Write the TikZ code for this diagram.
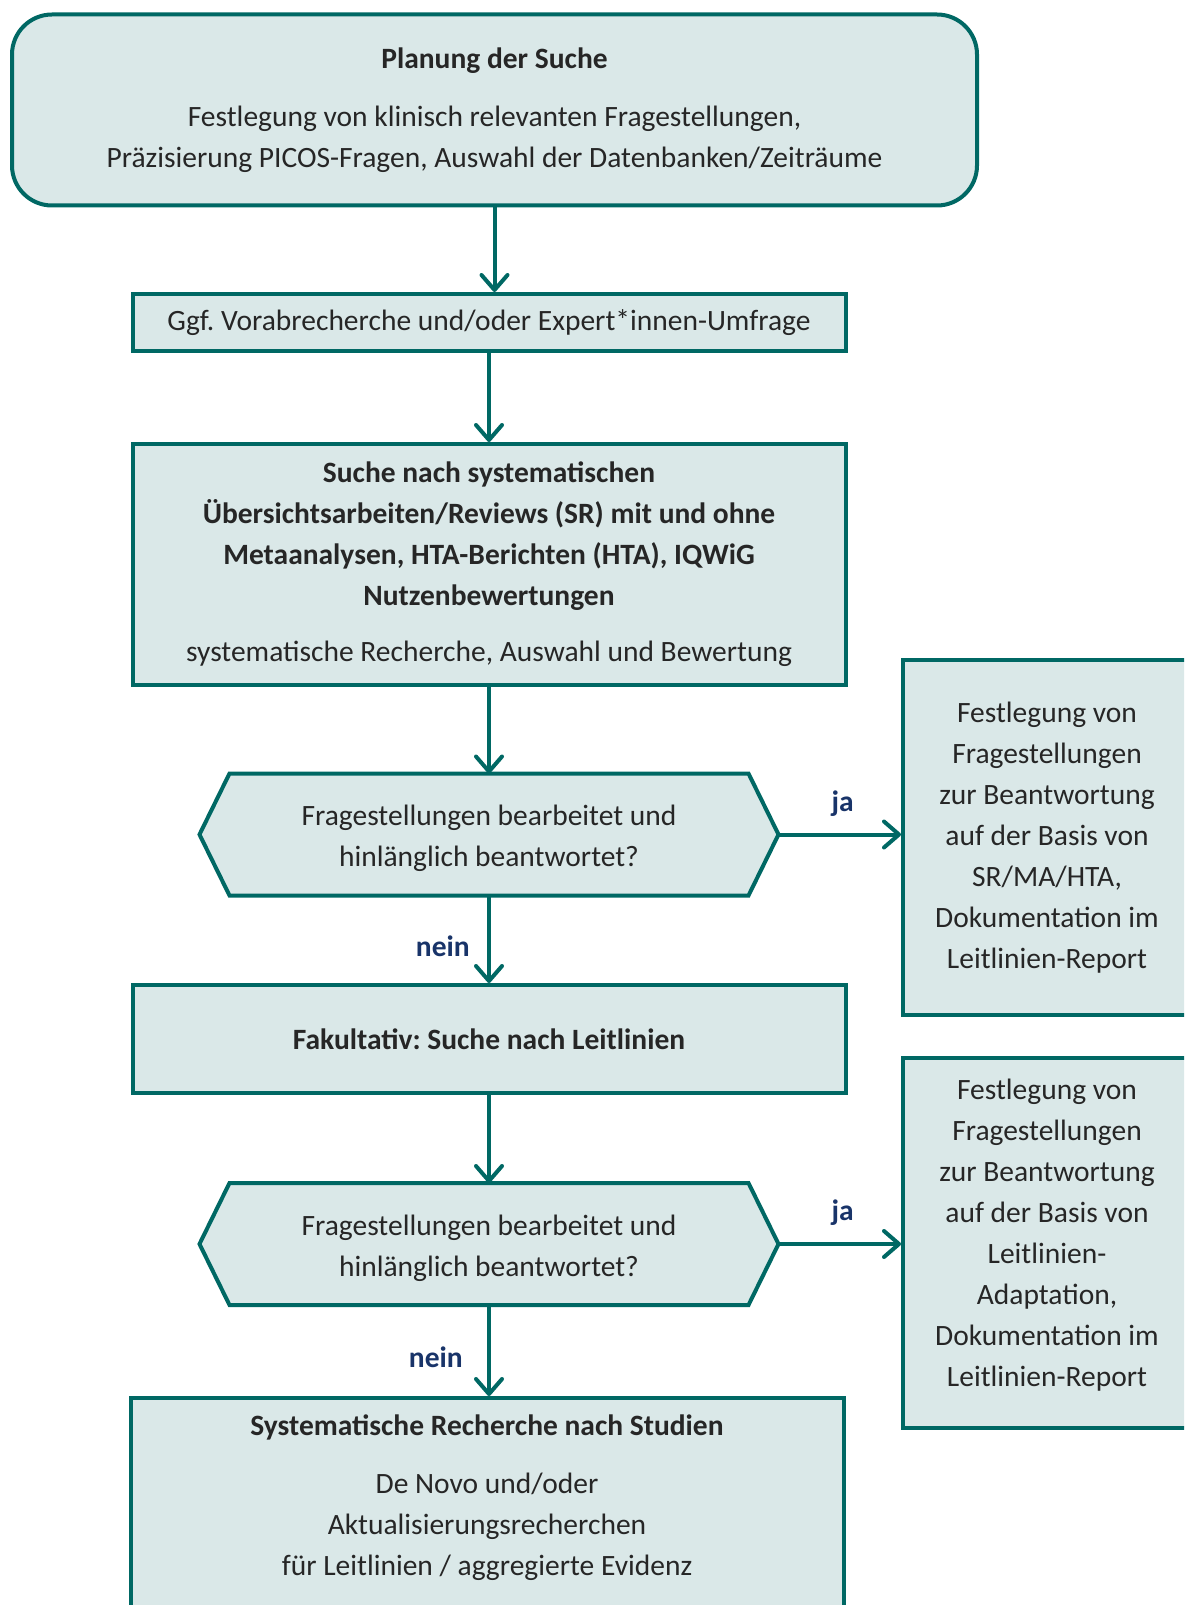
\documentclass[tikz,border=0pt]{standalone}
\usepackage{fontspec}
\setmainfont{Carlito}
\frenchspacing
\usetikzlibrary{arrows.meta,backgrounds}
\definecolor{flowteal}{RGB}{0,104,100}
\definecolor{flowfill}{RGB}{218,232,232}
\definecolor{flowtext}{RGB}{38,38,38}
\definecolor{flowlabel}{RGB}{25,52,105}
\begin{document}
\begin{tikzpicture}[x=1pt,y=-1pt,
  every node/.style={font=\fontsize{29.5}{41}\selectfont, text=flowtext},
  box/.style={draw=flowteal, fill=flowfill, line width=4pt, align=center, inner sep=0pt},
  hexa/.style={inner sep=0pt, outer sep=0pt, minimum width=519pt, minimum height=122pt},
  hexline/.style={draw=flowteal, fill=flowfill, line width=4pt},
  arrow/.style={draw=flowteal, line width=4pt, -{Straight Barb[length=15pt,width=26pt,round]}},
  answer/.style={font=\fontsize{29.5}{41}\selectfont\bfseries, text=flowlabel}]
  \useasboundingbox (0,0) rectangle (1184,1605);
  \clip (0,0) rectangle (1184,1605);

  % main column
  \node[box, rounded corners=40pt, minimum width=965pt, minimum height=191pt] (plan) at (494.5,110)
    {\textbf{Planung der Suche}\\[17pt]Festlegung von klinisch relevanten Fragestellungen,\\Präzisierung PICOS-Fragen, Auswahl der Datenbanken/Zeiträume};
  \node[box, minimum width=713pt, minimum height=57pt] (vorab) at (489,322.5)
    {Ggf. Vorabrecherche und/oder Expert*innen-Umfrage};
  \node[box, minimum width=713pt, minimum height=241pt] (sr) at (489,564.5)
    {\textbf{Suche nach systematischen}\\\textbf{Übersichtsarbeiten/Reviews (SR) mit und ohne}\\
     \textbf{Metaanalysen, HTA-Berichten (HTA), IQWiG}\\\textbf{Nutzenbewertungen}\\[15pt]
     systematische Recherche, Auswahl und Bewertung};
  \node[hexa] (hex1) at (489,834.5) {};
  \node[align=center, inner sep=0pt] (hex1txt) at (489,838.5) {Fragestellungen bearbeitet und\\hinlänglich beantwortet?};
  \node[box, minimum width=713pt, minimum height=108pt] (fak) at (489,1039)
    {\textbf{Fakultativ: Suche nach Leitlinien}};
  \node[hexa] (hex2) at (489,1244) {};
  \node[align=center, inner sep=0pt] (hex2txt) at (489,1248) {Fragestellungen bearbeitet und\\hinlänglich beantwortet?};
  \node[box, anchor=north, minimum width=713pt, minimum height=300pt] (studien) at (487,1396) {};
  \node[anchor=north, align=center, inner sep=0pt] (studientxt) at (487,1415)
    {\textbf{Systematische Recherche nach Studien}\\[17pt]De Novo und/oder\\Aktualisierungsrecherchen\\für Leitlinien / aggregierte Evidenz};

  % side boxes
  \node[box, minimum width=288pt, minimum height=355pt] (sramt) at (1047,837.5)
    {Festlegung von\\Fragestellungen\\zur Beantwortung\\auf der Basis von\\SR/MA/HTA,\\Dokumentation im\\Leitlinien-Report};
  \node[box, minimum width=288pt, minimum height=370pt] (llamt) at (1047,1243) {};
  \node[align=center, inner sep=0pt] (llamttxt) at (1047,1235)
    {Festlegung von\\Fragestellungen\\zur Beantwortung\\auf der Basis von\\Leitlinien-\\Adaptation,\\Dokumentation im\\Leitlinien-Report};

  % decision shapes
  \begin{scope}[on background layer]
    \foreach \h in {hex1,hex2}{
      \draw[hexline] (\h.north west) -- (\h.north east) -- ([xshift=30pt]\h.east)
        -- (\h.south east) -- (\h.south west) -- ([xshift=-30pt]\h.west) -- cycle;
    }
  \end{scope}
  \coordinate (hex1tip) at ([xshift=30pt]hex1.east);
  \coordinate (hex2tip) at ([xshift=30pt]hex2.east);

  % connectors
  \draw[arrow] (plan.south) -- (plan.south |- vorab.north);
  \draw[arrow] (vorab) -- (sr);
  \draw[arrow] (sr) -- (hex1);
  \draw[arrow] (hex1) -- node[answer, left=14pt, pos=0.58] (nein1) {nein} (fak);
  \draw[arrow] (fak) -- (hex2);
  \draw[arrow] (hex2.south) -- node[answer, left=21pt, pos=0.57] (nein2) {nein} (hex2.south |- studien.north);
  \draw[arrow] (hex1tip) -- node[answer, above=13pt, xshift=3pt] (ja1) {ja} (hex1tip -| sramt.west);
  \draw[arrow] (hex2tip) -- node[answer, above=13pt, xshift=3pt] (ja2) {ja} (hex2tip -| llamt.west);
\end{tikzpicture}
\end{document}
